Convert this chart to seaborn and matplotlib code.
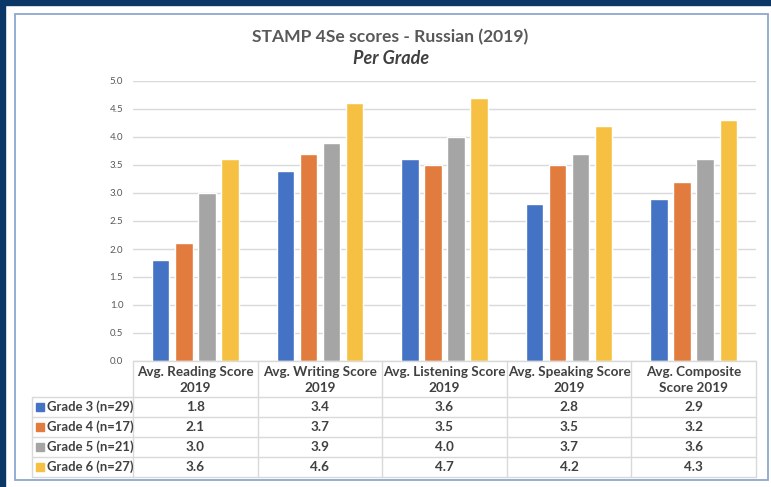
import pandas as pd
import matplotlib.pyplot as plt
import matplotlib.patches as mpatches
import matplotlib.lines as mlines
import seaborn as sns

# chart data
categories = ["Avg. Reading Score\n2019", "Avg. Writing Score\n2019",
              "Avg. Listening Score\n2019", "Avg. Speaking Score\n2019",
              "Avg. Composite\nScore 2019"]
grades = ["Grade 3 (n=29)", "Grade 4 (n=17)", "Grade 5 (n=21)", "Grade 6 (n=27)"]
grade3 = [1.8, 3.4, 3.6, 2.8, 2.9]
grade4 = [2.1, 3.7, 3.5, 3.5, 3.2]
grade5 = [3.0, 3.9, 4.0, 3.7, 3.6]
grade6 = [3.6, 4.6, 4.7, 4.2, 4.3]
colors = ["#4472C4", "#E27B3E", "#A5A5A5", "#F6C143"]

series = [grade3, grade4, grade5, grade6]
rows = []
for g, vals in zip(grades, series):
    for c, v in zip(categories, vals):
        rows.append({"category": c, "grade": g, "score": v})
df = pd.DataFrame(rows)

sns.set_style("white")
plt.rcParams['font.family'] = ['Lato', 'DejaVu Sans']

W, H = 771, 487
def fx(x):
    return x / W
def fy(y):
    return 1 - y / H

fig = plt.figure(figsize=(W / 100, H / 100), dpi=100)
fig.patch.set_facecolor("white")

# outer frame
fig.add_artist(mpatches.Rectangle((0, fy(5)), 1, 5 / H, transform=fig.transFigure,
                                  color="#0b3766", zorder=0))
fig.add_artist(mpatches.Rectangle((0, 0), 5 / W, 1, transform=fig.transFigure,
                                  color="#0b3766", zorder=0))
fig.add_artist(mpatches.Rectangle((fx(15), fy(480)), (768 - 15) / W, (480 - 14) / H,
                                  transform=fig.transFigure, fill=False,
                                  edgecolor="#8fa6cf", lw=1.3, zorder=0))

ax = fig.add_axes([fx(133), fy(361), (756 - 133) / W, (361 - 81) / H])
sns.barplot(data=df, x="category", y="score", hue="grade", palette=colors,
            width=0.74, gap=0.24, saturation=1, legend=False, ax=ax, zorder=3)

ax.set_ylim(0, 5)
ax.set_xlim(-0.5, len(categories) - 0.5)
ax.set_yticks([i * 0.5 for i in range(11)])
ax.set_yticklabels([f"{i * 0.5:.1f}" for i in range(11)], fontsize=7, color="#595959")
ax.set_xticks([])
ax.set_xlabel("")
ax.set_ylabel("")
ax.tick_params(axis="y", length=0, pad=7)
ax.grid(axis="y", color="#d9d9d9", lw=1, zorder=0)
ax.set_axisbelow(True)
for s in ax.spines.values():
    s.set_visible(False)

# titles
fig.text(fx(390), fy(37), "STAMP 4Se scores - Russian (2019)", ha="center", va="center",
         fontsize=12.6, fontweight="bold", color="#595959")
fig.text(fx(391), fy(58), "Per Grade", ha="center", va="center",
         fontsize=13, fontweight="bold", style="italic", color="#404040")

# data table under the chart
line_c = "#d9d9d9"
col_edges = [133 + i * 124.6 for i in range(len(categories) + 1)]
row_edges = [397, 417, 437, 457, 477]

def hline(y, x0, x1):
    fig.add_artist(mlines.Line2D([fx(x0), fx(x1)], [fy(y), fy(y)],
                                 transform=fig.transFigure, color=line_c, lw=1))

def vline(x, y0, y1):
    fig.add_artist(mlines.Line2D([fx(x), fx(x)], [fy(y0), fy(y1)],
                                 transform=fig.transFigure, color=line_c, lw=1))

hline(361, col_edges[0], col_edges[-1])
for y in row_edges:
    hline(y, 32, col_edges[-1])
vline(32, row_edges[0], row_edges[-1])
for x in col_edges:
    vline(x, 361, row_edges[-1])

txt_c = "#404040"
for i, cat in enumerate(categories):
    cx = (col_edges[i] + col_edges[i + 1]) / 2
    fig.text(fx(cx), fy(380), cat, ha="center", va="center", fontsize=9.7,
             fontweight="bold", color=txt_c, linespacing=1.45)
    for r, vals in enumerate(series):
        cy = (row_edges[r] + row_edges[r + 1]) / 2
        fig.text(fx(cx), fy(cy), f"{vals[i]:.1f}", ha="center", va="center",
                 fontsize=9.7, fontweight="bold", color=txt_c)

for r, g in enumerate(grades):
    cy = (row_edges[r] + row_edges[r + 1]) / 2
    fig.add_artist(mpatches.Rectangle((fx(36), fy(cy + 4)), 8 / W, 8 / H,
                                      transform=fig.transFigure, color=colors[r]))
    fig.text(fx(47), fy(cy), g, ha="left", va="center", fontsize=9.4,
             fontweight="bold", color=txt_c)

fig.savefig("out.png", dpi=100)
